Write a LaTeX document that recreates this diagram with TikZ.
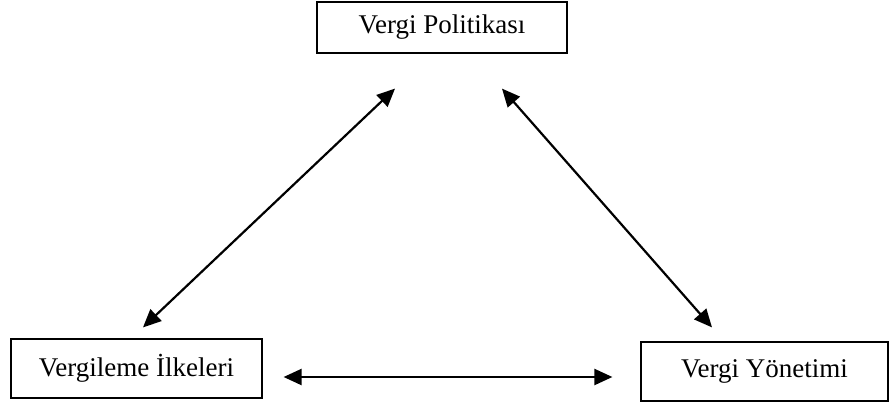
\documentclass[tikz,border=0pt]{standalone}
\usepackage{fontspec}
\setmainfont{Liberation Serif}
\usetikzlibrary{arrows.meta}
\begin{document}
\begin{tikzpicture}[x=0.5pt,y=0.5pt,
  box/.style={draw,line width=0.6pt,shape=rectangle,minimum height=25.5pt,font=\fontsize{13.5}{15}\selectfont},
  link/.style={{Triangle[length=9pt,width=8pt]}-{Triangle[length=9pt,width=8pt]},line width=1.1pt}]
\useasboundingbox (0,0) rectangle (889,403);
\node[box,minimum width=125pt](vp) at (442,375.5){Vergi Politikası};
\node[box,minimum width=125.5pt,minimum height=29.5pt](vi) at (136.5,34.5){Vergileme İlkeleri};
\node[box,minimum width=123.5pt,minimum height=29.5pt](vy) at (764.5,31.5){Vergi Yönetimi};
\draw[link] ([xshift=-23.5pt,yshift=-17.5pt]vp.south) -- ([xshift=3.25pt,yshift=5.5pt]vi.north);
\draw[link] ([xshift=30pt,yshift=-17.5pt]vp.south) -- ([xshift=-26.25pt,yshift=7pt]vy.north);
\draw[link] ([xshift=10.5pt,yshift=-4.25pt]vi.east) -- ([xshift=-14pt,yshift=-2.75pt]vy.west);
\end{tikzpicture}
\end{document}
